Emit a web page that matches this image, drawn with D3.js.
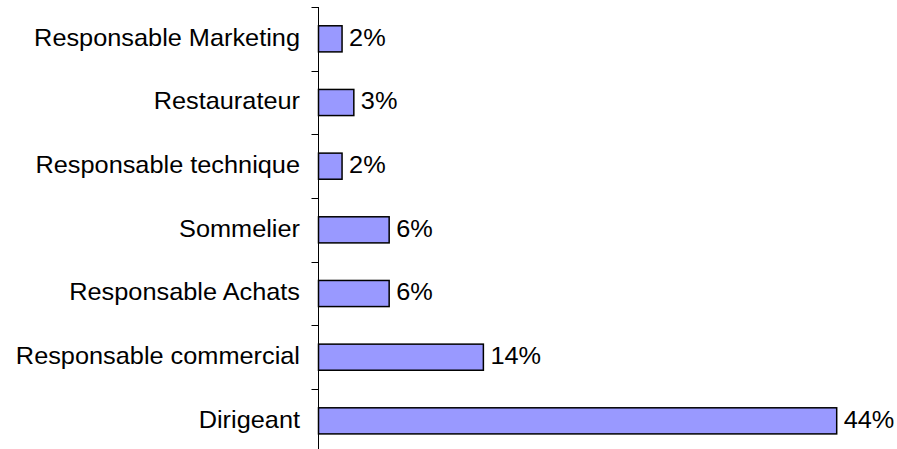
<!DOCTYPE html>
<html>
<head>
<meta charset="utf-8">
<script src="https://cdn.jsdelivr.net/npm/d3@7"></script>
<style>
  body { margin: 0; background: #fff; }
  text { font-family: Arial, "Liberation Sans", sans-serif; fill: #000; }
</style>
</head>
<body>
<div id="chart"></div>
<script>
// categories top to bottom
const categories = [
    "Responsable Marketing",
    "Restaurateur",
    "Responsable technique",
    "Sommelier",
    "Responsable Achats",
    "Responsable commercial",
    "Dirigeant"
];
const values = [2, 3, 2, 6, 6, 14, 44];
const valueLabels = ["2%", "3%", "2%", "6%", "6%", "14%", "44%"];

const width = 897, height = 449;
const axisX = 318.5;
const fontSize = 24;
const stretch = 1.055; // labels are drawn a bit wider than the font

const svg = d3.select("#chart")
    .append("svg")
    .attr("width", width)
    .attr("height", height);

const x = d3.scaleLinear()
    .domain([0, 44])
    .range([axisX, 836.7]);

const y = d3.scaleBand()
    .domain(categories)
    .range([7, 7 + 7 * 63.67])
    .paddingInner(0.59)
    .paddingOuter(0.295);

const step = y.step();
const rows = categories.map((c, i) => ({ cat: c, value: values[i], label: valueLabels[i] }));

// bars
svg.selectAll(".bar")
    .data(rows)
    .enter().append("rect")
    .attr("class", "bar")
    .attr("x", x(0))
    .attr("y", d => y(d.cat))
    .attr("width", d => x(d.value) - x(0))
    .attr("height", y.bandwidth())
    .attr("fill", "#9999FF")
    .attr("stroke", "#000")
    .attr("stroke-width", 1.5);

// axis line and ticks between categories
svg.append("line")
    .attr("x1", axisX).attr("x2", axisX)
    .attr("y1", y.range()[0]).attr("y2", height)
    .attr("stroke", "#000")
    .attr("stroke-width", 1);

const boundaries = categories.map(c => y(c) - step * y.paddingInner() / 2);
svg.selectAll(".tick")
    .data(boundaries)
    .enter().append("line")
    .attr("class", "tick")
    .attr("x1", axisX - 7).attr("x2", axisX)
    .attr("y1", d => Math.round(d) + 0.5)
    .attr("y2", d => Math.round(d) + 0.5)
    .attr("stroke", "#000")
    .attr("stroke-width", 1);

// category labels
svg.selectAll(".cat")
    .data(rows)
    .enter().append("text")
    .attr("class", "cat")
    .attr("transform", d => `translate(300, ${y(d.cat) + y.bandwidth() / 2}) scale(${stretch}, 1)`)
    .attr("dy", "0.28em")
    .attr("text-anchor", "end")
    .style("font-size", fontSize + "px")
    .text(d => d.cat);

// value labels
svg.selectAll(".val")
    .data(rows)
    .enter().append("text")
    .attr("class", "val")
    .attr("transform", d => `translate(${x(d.value) + 7}, ${y(d.cat) + y.bandwidth() / 2}) scale(${stretch}, 1)`)
    .attr("dy", "0.28em")
    .style("font-size", fontSize + "px")
    .text(d => d.label);
</script>
</body>
</html>
